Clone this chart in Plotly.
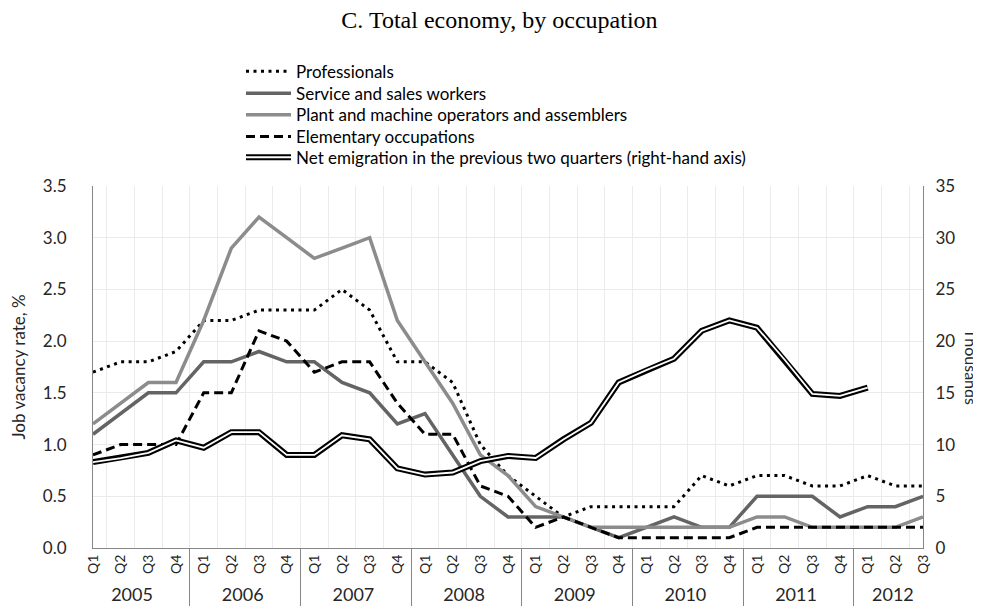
"""
Job vacancy rate by occupation vs net emigration (panel C)
"""
import plotly.graph_objects as go

# 数据
years = ['2005', '2006', '2007', '2008', '2009', '2010', '2011', '2012']
quarters = ['Q1', 'Q2', 'Q3', 'Q4']
n_periods = 31  # 2005Q1 .. 2012Q3

# year labels are printed larger than the quarter labels in the original
year_lbl = ['<span style="font-size:18px">%s</span>' % y for y in years]
year_cat = [y for y in year_lbl for q in quarters][:n_periods]
quarter_cat = [q for y in years for q in quarters][:n_periods]

professionals = [1.7, 1.8, 1.8, 1.9, 2.2, 2.2, 2.3, 2.3, 2.3, 2.5, 2.3, 1.8,
                 1.8, 1.6, 1.0, 0.7, 0.5, 0.3, 0.4, 0.4, 0.4, 0.4, 0.7, 0.6,
                 0.7, 0.7, 0.6, 0.6, 0.7, 0.6, 0.6]
service = [1.1, 1.3, 1.5, 1.5, 1.8, 1.8, 1.9, 1.8, 1.8, 1.6, 1.5, 1.2,
           1.3, 0.9, 0.5, 0.3, 0.3, 0.3, 0.2, 0.1, 0.2, 0.3, 0.2, 0.2,
           0.5, 0.5, 0.5, 0.3, 0.4, 0.4, 0.5]
plant = [1.2, 1.4, 1.6, 1.6, 2.2, 2.9, 3.2, 3.0, 2.8, 2.9, 3.0, 2.2,
         1.8, 1.4, 0.9, 0.7, 0.4, 0.3, 0.2, 0.2, 0.2, 0.2, 0.2, 0.2,
         0.3, 0.3, 0.2, 0.2, 0.2, 0.2, 0.3]
elementary = [0.9, 1.0, 1.0, 1.0, 1.5, 1.5, 2.1, 2.0, 1.7, 1.8, 1.8, 1.4,
              1.1, 1.1, 0.6, 0.5, 0.2, 0.3, 0.2, 0.1, 0.1, 0.1, 0.1, 0.1,
              0.2, 0.2, 0.2, 0.2, 0.2, 0.2, 0.2]
# thousands, right-hand axis (to 2012Q1)
net_emigration = [8.3, 8.7, 9.2, 10.4, 9.7, 11.2, 11.2, 9.0, 9.0, 10.9, 10.5, 7.7,
                  7.1, 7.3, 8.4, 8.9, 8.7, 10.5, 12.1, 16.0, 17.2, 18.3, 21.0, 22.0,
                  21.3, 18.2, 14.9, 14.7, 15.5]

FONT = 'Lato'
AXIS_GREY = '#868686'
GRID = '#ebebeb'
TXT = '#262626'

x_all = [year_cat, quarter_cat]
x_net = [year_cat[:len(net_emigration)], quarter_cat[:len(net_emigration)]]
net_name = 'Net emigration in the previous two quarters (right-hand axis)'

fig = go.Figure()
fig.add_trace(go.Scatter(x=x_all, y=professionals, name='Professionals', mode='lines',
                         legend='legend', line=dict(color='black', width=3, dash='3px,4.5px')))
fig.add_trace(go.Scatter(x=x_all, y=service, name='Service and sales workers', mode='lines',
                         legend='legend2', line=dict(color='#646464', width=3.5)))
fig.add_trace(go.Scatter(x=x_all, y=plant, name='Plant and machine operators and assemblers',
                         mode='lines', legend='legend3', line=dict(color='#8c8c8c', width=3.5)))
fig.add_trace(go.Scatter(x=x_all, y=elementary, name='Elementary occupations', mode='lines',
                         legend='legend4', line=dict(color='black', width=3, dash='9px,5px')))
# double line: thick black with a thin white core; the two legend entries sit on top of each other
fig.add_trace(go.Scatter(x=x_net, y=net_emigration, name=net_name, mode='lines', yaxis='y2',
                         legend='legend5', line=dict(color='black', width=6)))
fig.add_trace(go.Scatter(x=x_net, y=net_emigration, name=net_name, mode='lines', yaxis='y2',
                         legend='legend6', line=dict(color='white', width=1.8)))

# one legend per row so the row spacing matches the original
leg_x = (233 - 85) / 830
rows = [63.7, 85.7, 107.3, 129, 149.7, 149.7]
legends = {}
for i, yc in enumerate(rows):
    key = 'legend' if i == 0 else 'legend%d' % (i + 1)
    legends[key] = dict(x=leg_x, y=(540 - yc) / 362, xanchor='left', yanchor='middle',
                        bgcolor='rgba(0,0,0,0)', itemwidth=45, borderwidth=0,
                        font=dict(family=FONT, size=17,
                                  color='rgba(0,0,0,0)' if i == 5 else 'black'))

fig.update_layout(
    width=981, height=609,
    margin=dict(l=85, r=66, t=178, b=69),
    paper_bgcolor='white', plot_bgcolor='white',
    showlegend=True,
    font=dict(family=FONT, size=17, color=TXT),
    title=dict(text='C. Total economy, by occupation', x=0.501, xanchor='center',
               y=1 - 12 / 609, yanchor='middle',
               font=dict(family='Liberation Serif', size=24, color='black')),
    xaxis=dict(type='multicategory', tickson='boundaries', showgrid=True, gridcolor=GRID,
               showline=True, linecolor=AXIS_GREY, linewidth=1,
               ticks='outside', ticklen=8, tickcolor='rgba(0,0,0,0)', tickangle=-90,
               showdividers=True, dividercolor=AXIS_GREY, dividerwidth=1,
               tickfont=dict(family=FONT, size=14, color=TXT), automargin=False),
    yaxis=dict(range=[0, 3.5], dtick=0.5, tickformat='.1f', showgrid=True, gridcolor=GRID,
               showline=True, linecolor=AXIS_GREY, zeroline=False, ticks='',
               ticklabelstandoff=22, automargin=False,
               title=dict(text='Job vacancy rate, %', standoff=14,
                          font=dict(family=FONT, size=17, color=TXT))),
    yaxis2=dict(range=[0, 35], dtick=5, overlaying='y', side='right', showgrid=False,
                showline=True, linecolor=AXIS_GREY, zeroline=False, ticks='',
                ticklabelstandoff=8, automargin=False),
    annotations=[dict(text='Thousands', xref='paper', yref='paper', x=(964 - 85) / 830, y=0.5,
                      textangle=90, showarrow=False, xanchor='center', yanchor='middle',
                      font=dict(family=FONT, size=16, color=TXT))],
    **legends,
)

fig.write_html('out.html')
